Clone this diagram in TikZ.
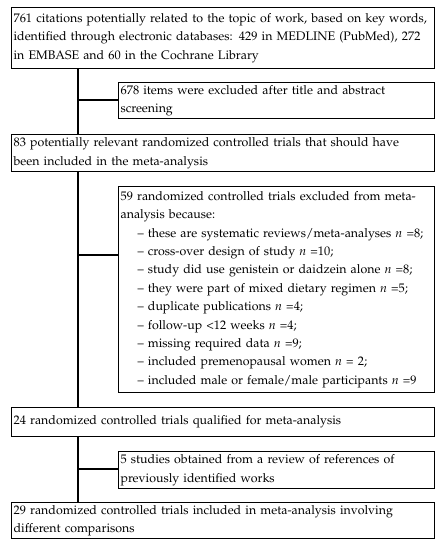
\documentclass[tikz,border=0pt]{standalone}
\usepackage[T1]{fontenc}
\usepackage{mathpazo}
\begin{document}
\begin{tikzpicture}[x=1pt,y=-1pt,
  box/.style={draw,line width=1.2pt,anchor=north west,inner xsep=2pt,inner ysep=0pt,
    align=left,font=\fontsize{12.4}{18.4}\selectfont},
  wide/.style={box,text width=419pt},
  narrow/.style={box,text width=312pt},
  link/.style={line width=1.2pt}]
\useasboundingbox (0,0) rectangle (443,550);
\newcommand{\itm}{\hspace*{17pt}\textendash\ }
\node[wide,minimum height=61pt] (b1) at (11,7)
  {\mbox{761 citations potentially related to the topic of work, based on key words,}\\
   identified through electronic databases: 429 in MEDLINE (PubMed), 272\\
   in EMBASE and 60 in the Cochrane Library};
\node[narrow,minimum height=36pt] (b2) at (118,82)
  {678 items were excluded after title and abstract\\ screening};
\node[wide,minimum height=37pt] (b3) at (11,134)
  {83 potentially relevant randomized controlled trials that should have\\
   been included in the meta-analysis};
\node[narrow,minimum height=206pt] (b4) at (118,186)
  {59 randomized controlled trials excluded from meta-\\
   analysis because:\\
   \itm these are systematic reviews/meta-analyses \textit{n} =8;\\
   \itm cross-over design of study \textit{n} =10;\\
   \itm study did use genistein or daidzein alone \textit{n} =8;\\
   \itm they were part of mixed dietary regimen \textit{n} =5;\\
   \itm duplicate publications \textit{n} =4;\\
   \itm follow-up {<}12 weeks \textit{n} =4;\\
   \itm missing required data \textit{n} =9;\\
   \itm included premenopausal women \textit{n} = 2;\\
   \itm included male or female/male participants \textit{n} =9};
\node[wide,minimum height=29pt] (b5) at (11,407)
  {24 randomized controlled trials qualified for meta-analysis};
\node[narrow,minimum height=37pt] (b6) at (118,451)
  {5 studies obtained from a review of references of\\ previously identified works};
\node[wide,minimum height=36pt] (b7) at (11,502)
  {29 randomized controlled trials included in meta-analysis involving\\
   different comparisons};
\coordinate (sp) at (78,0);
\coordinate (j2) at (78,100);
\coordinate (j4) at (78,255);
\coordinate (j6) at (78,469);
\draw[link] (b1.south -| sp) -- (b3.north -| sp);
\draw[link] (b3.south -| sp) -- (b5.north -| sp);
\draw[link] (b5.south -| sp) -- (b7.north -| sp);
\draw[link] (j2) -- (j2 -| b2.west);
\draw[link] (j4) -- (j4 -| b4.west);
\draw[link] (j6) -- (j6 -| b6.west);
\end{tikzpicture}
\end{document}
